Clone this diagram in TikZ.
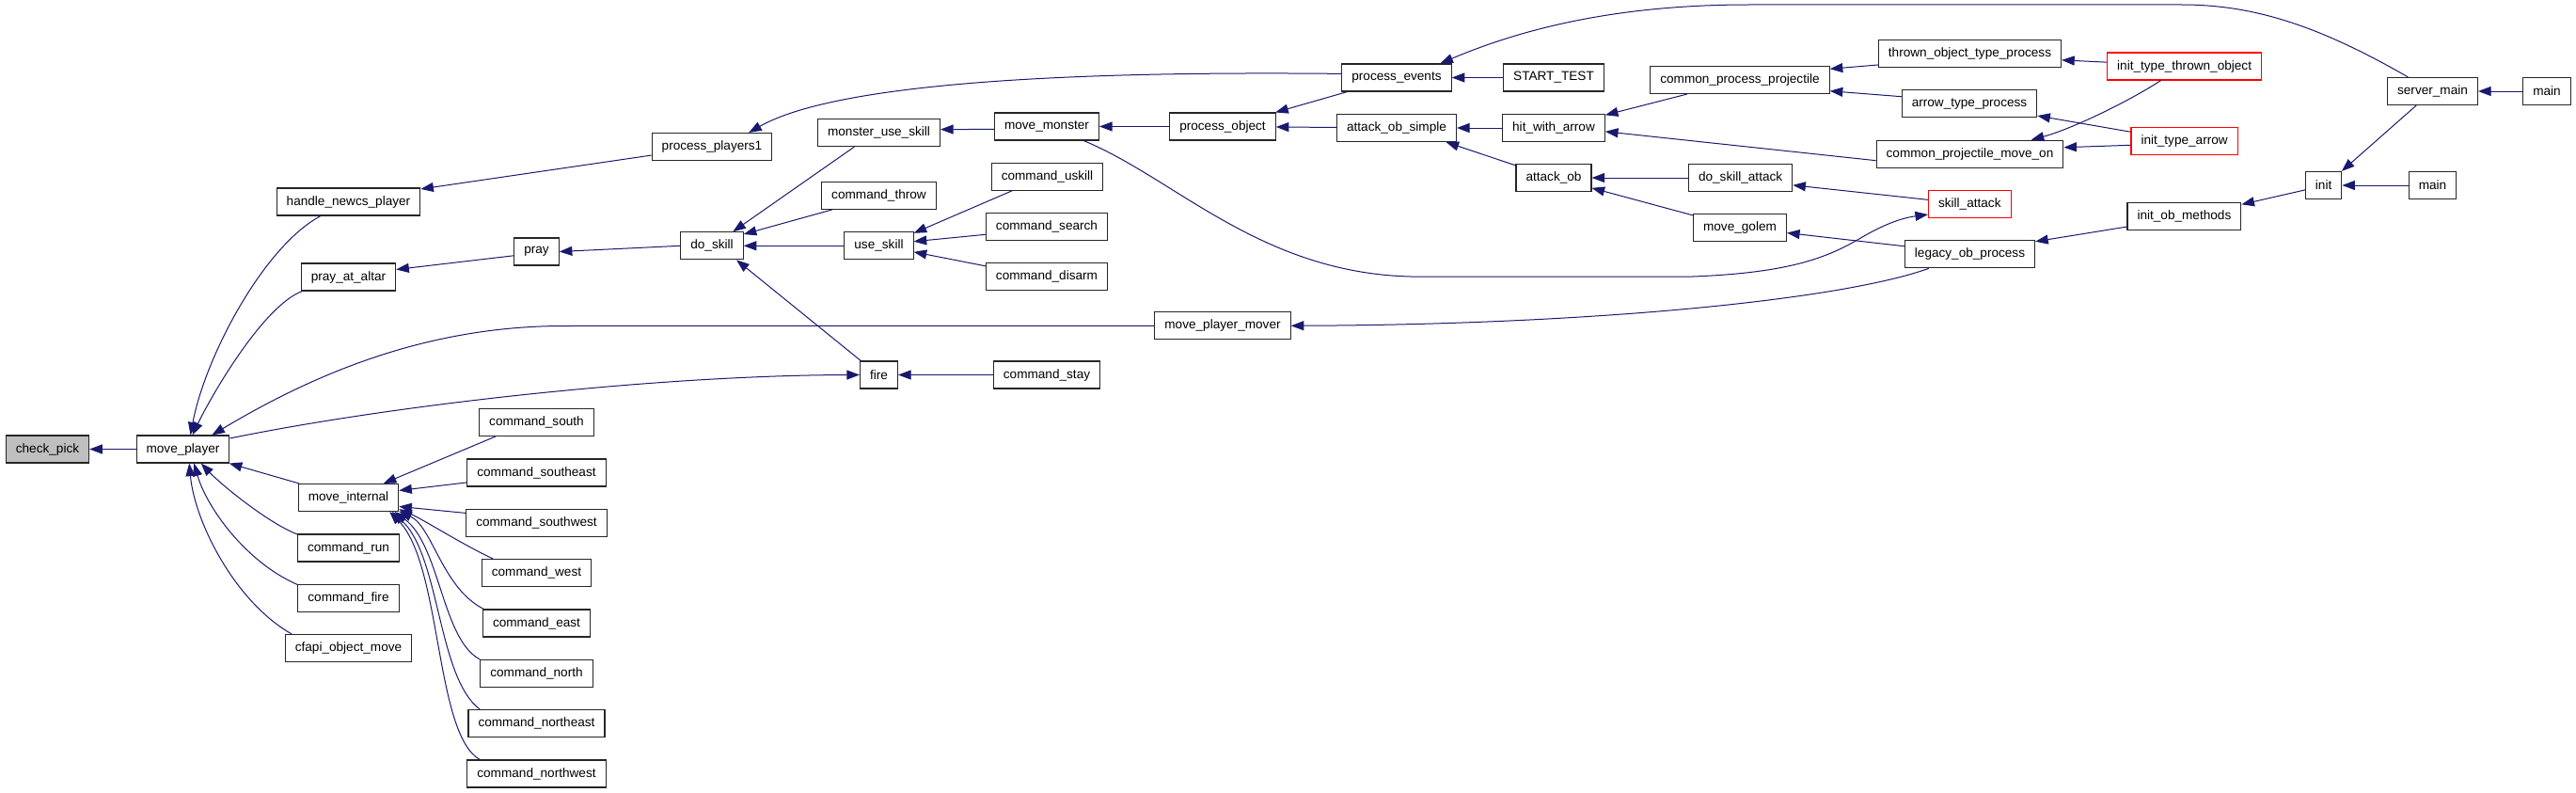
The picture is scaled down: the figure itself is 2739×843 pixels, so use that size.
\documentclass[tikz,border=0pt]{standalone}
\usepackage{fontspec}
\setmainfont{Liberation Sans}
\usetikzlibrary{arrows.meta}
\definecolor{edgeblue}{HTML}{191970}
\definecolor{rootgray}{HTML}{BFBFBF}
\tikzset{
  fn/.style={draw=black!85, line width=1.1pt, fill=white, minimum height=29pt,
    inner xsep=10.5pt, inner ysep=0pt, font=\fontsize{13.6pt}{16pt}\selectfont},
  trunc/.style={fn, draw=red},
  calls/.style={draw=edgeblue, line width=1pt, -{Triangle[length=13.6pt,width=10pt]}},
}

\begin{document}
\begin{tikzpicture}[x=1pt, y=-1pt]
		%%%%% START %%%%%
		
		\fill[white] (0,0) rectangle (2739,843);
		\useasboundingbox (0,0) rectangle (2739,843);
		
		\node[fn, fill=rootgray] (checkpick) at (50.5,477.5) {check\_pick};
		\node[fn] (moveplayer) at (194.5,477.5) {move\_player};
		
		\node[fn] (handlenewcs) at (370.5,214.5) {handle\_newcs\_player};
		\node[fn] (prayaltar) at (370.5,294.5) {pray\_at\_altar};
		\node[fn] (moveint) at (370.5,529) {move\_internal};
		\node[fn] (cmdrun) at (370.5,582.5) {command\_run};
		\node[fn] (cmdfire) at (370.5,636) {command\_fire};
		\node[fn] (cfapi) at (370.5,689) {cfapi\_object\_move};
		
		\node[fn] (pray) at (570.5,267.5) {pray};
		\node[fn] (cmdsouth) at (570.5,449) {command\_south};
		\node[fn] (cmdsoutheast) at (570.5,502.5) {command\_southeast};
		\node[fn] (cmdsouthwest) at (570.5,556) {command\_southwest};
		\node[fn] (cmdwest) at (570.5,609) {command\_west};
		\node[fn] (cmdeast) at (570.5,662.5) {command\_east};
		\node[fn] (cmdnorth) at (570.5,716) {command\_north};
		\node[fn] (cmdnortheast) at (570.5,769) {command\_northeast};
		\node[fn] (cmdnorthwest) at (570.5,822.5) {command\_northwest};
		
		\node[fn] (procplayers) at (757,156) {process\_players1};
		\node[fn] (doskill) at (757,261.3) {do\_skill};
		
		\node[fn] (monsterskill) at (934.5,141) {monster\_use\_skill};
		\node[fn] (cmdthrow) at (934.5,207.7) {command\_throw};
		\node[fn] (useskill) at (934.5,261.3) {use\_skill};
		\node[fn] (fire) at (934.5,398.5) {fire};
		
		\node[fn] (movemonster) at (1113,134.5) {move\_monster};
		\node[fn] (cmduskill) at (1113.5,187.7) {command\_uskill};
		\node[fn] (cmdsearch) at (1113,241.3) {command\_search};
		\node[fn] (cmddisarm) at (1113,294.3) {command\_disarm};
		\node[fn] (cmdstay) at (1113,398.5) {command\_stay};
		
		\node[fn] (procobject) at (1300,134.5) {process\_object};
		\node[fn] (mpmover) at (1300,346.3) {move\_player\_mover};
		
		\node[fn] (procevents) at (1485,82.5) {process\_events};
		\node[fn] (attacksimple) at (1485,136) {attack\_ob\_simple};
		
		\node[fn] (starttest) at (1652,82.5) {START\_TEST};
		\node[fn] (hitarrow) at (1652,136) {hit\_with\_arrow};
		\node[fn] (attackob) at (1652,189) {attack\_ob};
		
		\node[fn] (procproj) at (1850,85) {common\_process\_projectile};
		\node[fn] (skillattackdo) at (1850.6,189) {do\_skill\_attack};
		\node[fn] (movegolem) at (1850,242.3) {move\_golem};
		
		\node[fn] (thrownproc) at (2094.5,57) {thrown\_object\_type\_process};
		\node[fn] (arrowproc) at (2094,110.3) {arrow\_type\_process};
		\node[fn] (projmove) at (2094.5,163.7) {common\_projectile\_move\_on};
		\node[trunc] (skillattack) at (2094.3,217) {skill\_attack};
		\node[fn] (legacy) at (2094.5,270.3) {legacy\_ob\_process};
		
		\node[trunc] (initthrown) at (2322.6,70.5) {init\_type\_thrown\_object};
		\node[trunc] (initarrow) at (2322.6,150.3) {init\_type\_arrow};
		\node[fn] (initmethods) at (2322.4,230.3) {init\_ob\_methods};
		
		\node[fn] (init) at (2470.6,197) {init};
		\node[fn] (servermain) at (2586.5,97) {server\_main};
		\node[fn] (mainb) at (2586.5,197) {main};
		\node[fn] (maina) at (2708,97) {main};
		
		% callers of move_player
		\draw[calls] (moveplayer) -- (checkpick);
		\draw[calls] (handlenewcs.207) .. controls (280,262) and (218,380) .. (moveplayer.62);
		\draw[calls] (prayaltar.197) .. controls (280,325) and (225,420) .. (moveplayer.56);
		\draw[calls] (mpmover.west) -- (600,346.5) .. controls (450,346.5) and (330,400) .. (moveplayer.26);
		\draw[calls] (moveplayer.13) .. controls (420,430) and (700,399) .. (fire.west);
		\draw[calls] (moveint.164) -- (moveplayer.-17);
		\draw[calls] (cmdrun.165) .. controls (285,556) and (235,515) .. (moveplayer.-38);
		\draw[calls] (cmdfire.165) .. controls (262,598) and (220,540) .. (moveplayer.-52);
		\draw[calls] (cfapi.166) .. controls (250,640) and (207,555) .. (moveplayer.-66);
		
		\draw[calls] (procplayers.188) -- (handlenewcs.10);
		\draw[calls] (pray.190) -- (prayaltar.9);
		\draw[calls] (doskill.west) -- (pray.east);
		
		% callers of move_internal
		\draw[calls] (cmdsouth.199) -- (moveint.22);
		\draw[calls] (cmdsoutheast.188) -- (moveint.8);
		\draw[calls] (cmdsouthwest.172) -- (moveint.-10);
		\draw[calls] (cmdwest.162) .. controls (490,578) and (450,552) .. (moveint.-13);
		\draw[calls] (cmdeast.165) .. controls (470,625) and (460,560) .. (moveint.-15);
		\draw[calls] (cmdnorth.166) .. controls (470,680) and (468,580) .. (moveint.-17);
		\draw[calls] (cmdnortheast.166) .. controls (465,720) and (468,590) .. (moveint.-18);
		\draw[calls] (cmdnorthwest.166) .. controls (462,780) and (470,600) .. (moveint.-19);
		
		% skills
		\draw[calls] (procevents.176) .. controls (1200,76) and (900,82) .. (procplayers.21);
		\draw[calls] (monsterskill.210) -- (doskill.34);
		\draw[calls] (cmdthrow.197) -- (doskill.20);
		\draw[calls] (useskill) -- (doskill);
		\draw[calls] (fire.142) -- (doskill.-30);
		\draw[calls] (movemonster.183) -- (monsterskill.3);
		\draw[calls] (cmduskill.202) -- (useskill.20);
		\draw[calls] (cmdsearch.187) -- (useskill.7);
		\draw[calls] (cmddisarm.170) -- (useskill.-10);
		\draw[calls] (cmdstay) -- (fire);
		
		\draw[calls] (procobject) -- (movemonster);
		\draw[calls] (movemonster.-21) .. controls (1250,190) and (1340,290) .. (1500,294) -- (1800,294)
			.. controls (1900,290) and (1940,275) .. (1975,255) .. controls (2000,240) and (2020,232) .. (skillattack.194);
		\draw[calls] (legacy.199) .. controls (1960,318) and (1700,345) .. (mpmover.east);
		
		\draw[calls] (procevents.196) -- (procobject.15);
		\draw[calls] (attacksimple) -- (procobject);
		\draw[calls] (starttest) -- (procevents);
		\draw[calls] (servermain.150) .. controls (2470,30) and (2400,5) .. (2320,5) -- (1860,5)
			.. controls (1720,5) and (1620,30) .. (procevents.18);
		
		% attacks and projectiles
		\draw[calls] (hitarrow) -- (attacksimple);
		\draw[calls] (attackob.162) -- (attacksimple.-16);
		\draw[calls] (procproj.195) -- (hitarrow.14);
		\draw[calls] (projmove.184) -- (hitarrow.-4);
		\draw[calls] (skillattackdo) -- (attackob);
		\draw[calls] (movegolem.165) -- (attackob.-15);
		\draw[calls] (thrownproc.187) -- (procproj.7);
		\draw[calls] (arrowproc.174) -- (procproj.-7);
		\draw[calls] (skillattack.174) -- (skillattackdo.-8);
		\draw[calls] (legacy.173) -- (movegolem.-6);
		
		\draw[calls] (initthrown.177) -- (thrownproc.-4);
		\draw[calls] (initarrow.170) -- (arrowproc.-10);
		\draw[calls] (initarrow.184) -- (projmove.4);
		\draw[calls] (initthrown.211) .. controls (2260,110) and (2200,138) .. (projmove.13);
		\draw[calls] (initmethods.190) -- (legacy.11);
		
		\draw[calls] (init.194) -- (initmethods.12);
		\draw[calls] (servermain.221) -- (init.38);
		\draw[calls] (mainb) -- (init);
		\draw[calls] (maina) -- (servermain);
		
		%%%%% END %%%%%
\end{tikzpicture}
\end{document}
